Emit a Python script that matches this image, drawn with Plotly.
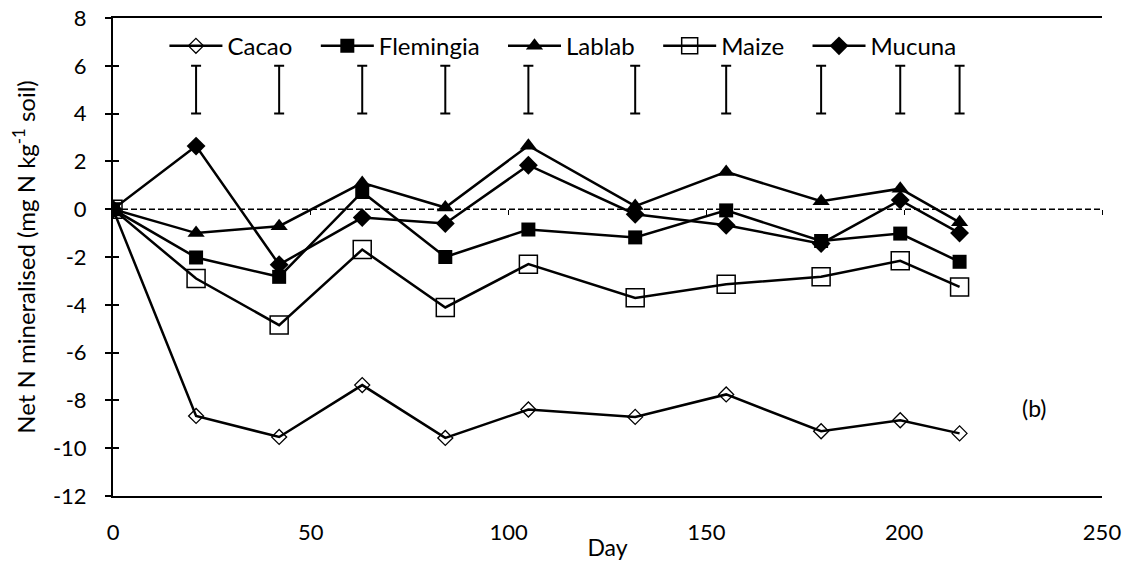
import plotly.graph_objects as go

# Sampling days
days = [0, 21, 42, 63, 84, 105, 132, 155, 179, 199, 214]

# Net N mineralised (mg N kg-1 soil) per residue type
cacao = [0, -8.65, -9.53, -7.36, -9.57, -8.38, -8.69, -7.75, -9.29, -8.83, -9.38]
flemingia = [0, -2.02, -2.83, 0.72, -2.00, -0.85, -1.18, -0.05, -1.33, -1.02, -2.20]
lablab = [0, -1.00, -0.71, 1.10, 0.07, 2.66, 0.13, 1.56, 0.33, 0.86, -0.55]
maize = [0, -2.90, -4.85, -1.69, -4.11, -2.30, -3.71, -3.14, -2.83, -2.16, -3.25]
mucuna = [0, 2.64, -2.32, -0.35, -0.60, 1.84, -0.21, -0.67, -1.44, 0.38, -1.00]

# LSD bars drawn above the curves
lsd_days = [21, 42, 63, 84, 105, 132, 155, 179, 199, 214]
lsd_centre = [5] * len(lsd_days)
lsd_half = [1] * len(lsd_days)

x_ticks = [0, 50, 100, 150, 200, 250]
y_ticks = [8, 6, 4, 2, 0, -2, -4, -6, -8, -10, -12]
y_labels = ["8", "6", "4", "2", "0", "-2", "-4", "-6", "-8", "-10", "-12"]

FONT = "Lato"
PAD = "\u00a0\u00a0\u00a0"  # extra room after each legend entry

series = [
    ("Cacao", cacao, dict(symbol="diamond-open", size=11.5, color="black", line=dict(width=1.3, color="black"))),
    ("Flemingia", flemingia, dict(symbol="square", size=14, color="black", line=dict(width=0))),
    ("Lablab", lablab, dict(symbol="triangle-up", size=15, color="black", line=dict(width=0))),
    ("Maize", maize, dict(symbol="square-open", size=18, color="black", line=dict(width=1.5, color="black"))),
    ("Mucuna", mucuna, dict(symbol="diamond", size=14.5, color="black", line=dict(width=0))),
]

fig = go.Figure()

for name, vals, marker in series:
    fig.add_trace(go.Scatter(
        x=days, y=vals, name=name + PAD, mode="lines+markers",
        line=dict(color="black", width=2.5),
        marker=marker,
    ))

fig.add_trace(go.Scatter(
    x=lsd_days, y=lsd_centre, mode="markers", showlegend=False,
    marker=dict(size=0.1, color="rgba(0,0,0,0)"),
    error_y=dict(type="data", array=lsd_half, visible=True,
                 color="black", thickness=2, width=5),
    hoverinfo="skip",
))

# Dashed horizontal axis at y = 0
fig.add_shape(type="line", xref="x", yref="y", x0=0, x1=250, y0=0, y1=0,
              line=dict(color="black", width=1.5, dash="6px,3px"), layer="below")

fig.add_annotation(x=233, y=-8.33, xref="x", yref="y", text="(b)",
                   showarrow=False, font=dict(family=FONT, size=23, color="black"))

fig.update_layout(
    width=1131, height=561,
    margin=dict(l=113, r=29, t=18, b=65, autoexpand=False),
    paper_bgcolor="white", plot_bgcolor="white",
    font=dict(family=FONT, size=22, color="black"),
    showlegend=True,
    legend=dict(
        orientation="h", x=0.052, y=0.988, xanchor="left", yanchor="top",
        font=dict(family=FONT, size=24, color="black"),
        bgcolor="rgba(0,0,0,0)", itemwidth=53, traceorder="normal",
    ),
    xaxis=dict(
        range=[0, 250], tickvals=x_ticks, showgrid=False, zeroline=False,
        showline=True, linecolor="black", linewidth=2, mirror=True,
        ticks="", ticklabelstandoff=16, automargin=False,
        tickfont=dict(family=FONT, size=22),
        title=dict(text="Day", font=dict(family=FONT, size=23), standoff=6),
    ),
    xaxis2=dict(
        range=[0, 250], tickvals=x_ticks, overlaying="x", anchor="free",
        position=0.6, side="bottom", showgrid=False, zeroline=False,
        showline=False, ticks="outside", ticklen=5, tickwidth=1,
        tickcolor="black", showticklabels=False,
    ),
    yaxis=dict(
        range=[-12, 8], tickvals=y_ticks, ticktext=y_labels,
        showgrid=False, zeroline=False, automargin=False,
        showline=True, linecolor="black", linewidth=2,
        ticks="outside", ticklen=6, tickwidth=2, tickcolor="black",
        ticklabelstandoff=14, tickfont=dict(family=FONT, size=22),
        title=dict(text="Net N mineralised (mg N kg<sup>-1</sup> soil)",
                   font=dict(family=FONT, size=24), standoff=10),
    ),
    yaxis2=dict(
        range=[-12, 8], tickvals=y_ticks, overlaying="y", anchor="x",
        side="left", showgrid=False, zeroline=False, showline=False,
        ticks="inside", ticklen=6, tickwidth=2, tickcolor="black",
        showticklabels=False,
    ),
)

# Tick marks on the dashed zero axis come from an overlaying axis
fig.add_trace(go.Scatter(x=[0], y=[0], xaxis="x2", yaxis="y2", mode="markers",
                         marker=dict(opacity=0), showlegend=False, hoverinfo="skip"))

fig.write_html("out.html")
